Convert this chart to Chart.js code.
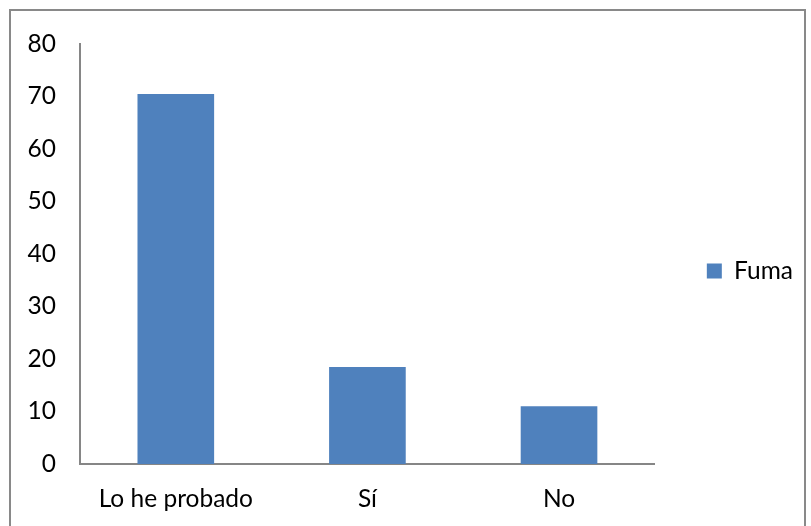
<!DOCTYPE html>
<html>
<head>
<meta charset="utf-8">
<script src="https://cdn.jsdelivr.net/npm/chart.js@4"></script>
<style>
  body { margin: 0; background: #fff; }
  #wrap { position: relative; width: 811px; height: 526px; }
  #frame { position: absolute; left: 9px; top: 9px; width: 797px; height: 520px; border: 2px solid #898989; box-sizing: border-box; pointer-events: none; }
</style>
</head>
<body>
<div id="wrap">
  <canvas id="chart" width="811" height="526"></canvas>
  <div id="frame"></div>
</div>
<script>
const categories = ['Lo he probado', 'Sí', 'No'];
const fumaValues = [70.5, 18.5, 11];
const seriesName = 'Fuma';

const font = { family: 'Lato, "Open Sans", sans-serif', size: 24.5 };

// empty axis used only as spacing
const spacer = (pos, size) => ({
    type: 'linear', position: pos, display: true,
    ticks: { display: false },
    grid: { display: false },
    border: { display: false },
    afterFit: function(s) {
        if (pos === 'top') s.height = size; else s.width = size;
    }
});

new Chart(document.getElementById('chart'), {
    type: 'bar',
    data: {
        labels: categories,
        datasets: [{
            label: seriesName, data: fumaValues, backgroundColor: '#4f81bd',
            xAxisID: 'x', yAxisID: 'y',
            barPercentage: 0.4, categoryPercentage: 1
        }]
    },
    options: {
        responsive: false,
        animation: false,
        layout: { padding: { top: 16, bottom: 0, left: 0, right: 8 } },
        plugins: {
            legend: {
                position: 'right',
                labels: { font: font, color: '#000', boxWidth: 15, boxHeight: 15, padding: 10 }
            },
            tooltip: { enabled: false }
        },
        scales: {
            x: {
                type: 'category',
                ticks: { font: font, color: '#000', padding: 12 },
                grid: { display: false },
                border: { display: true, color: '#868686', width: 2 },
                afterFit: function(s) { s.height = 62; }
            },
            y: {
                type: 'linear',
                min: 0, max: 80,
                ticks: { stepSize: 10, font: font, color: '#000', padding: 16 },
                grid: { display: false },
                border: { display: true, color: '#868686', width: 2 },
                afterFit: function(s) { s.width = 80; }
            },
            gapRight: spacer('right', 42),
            gapTop: spacer('top', 28)
        }
    }
});
</script>
</body>
</html>
